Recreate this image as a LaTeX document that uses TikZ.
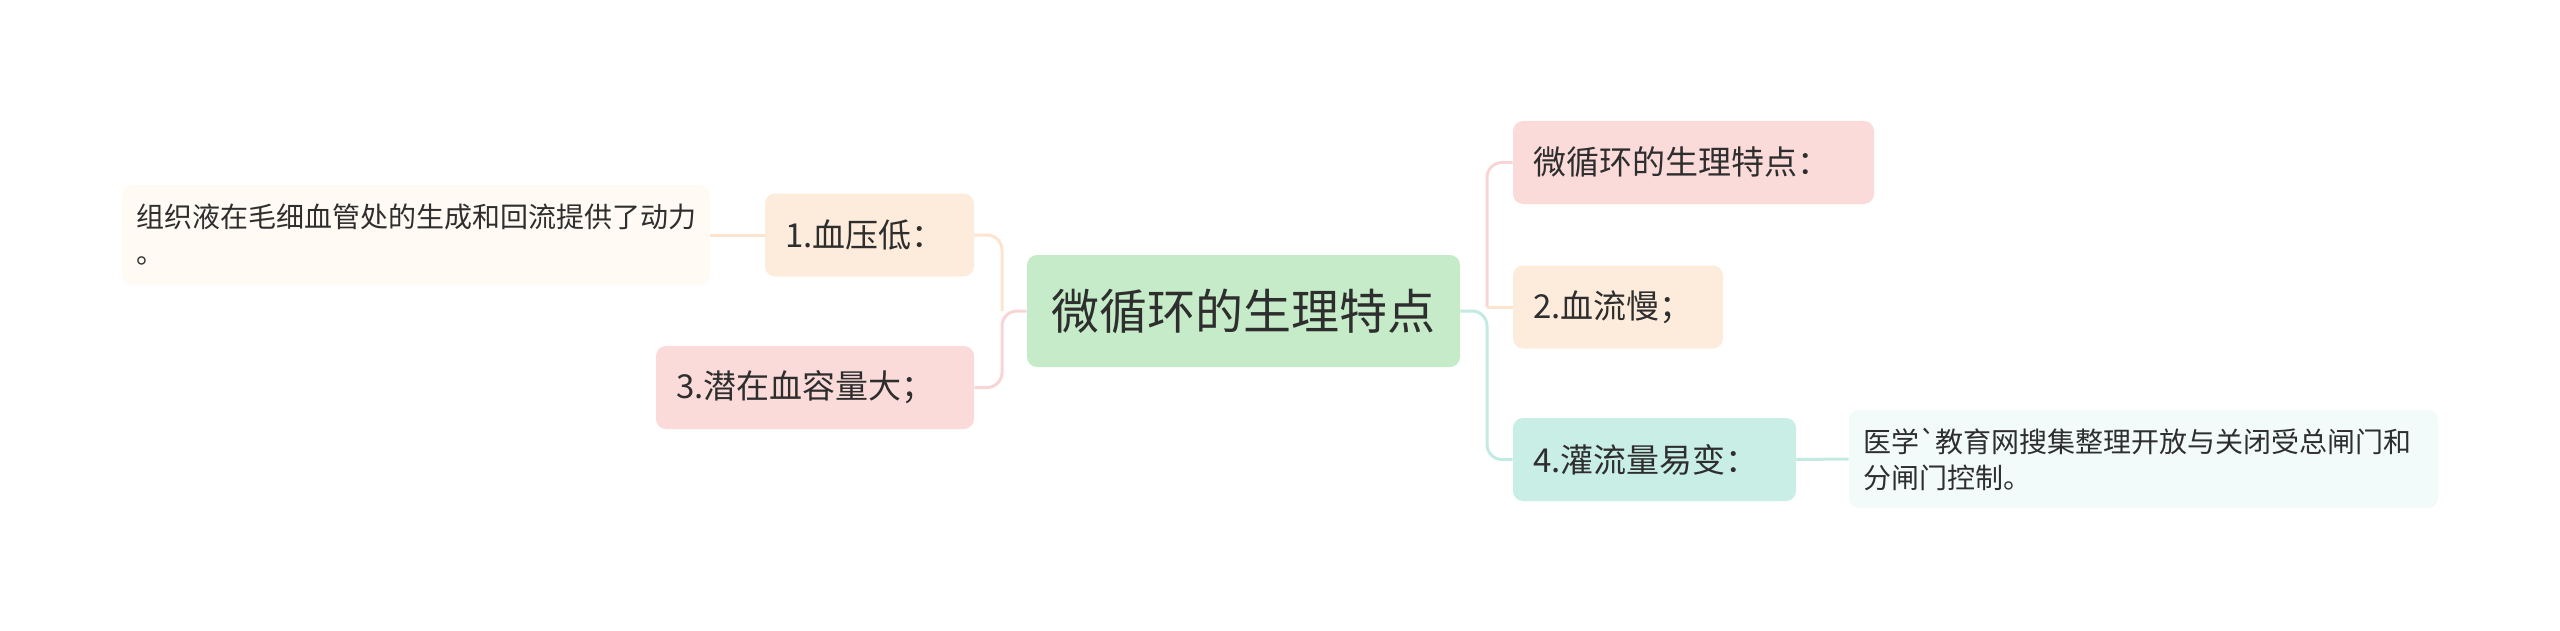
\documentclass[tikz,border=0pt]{standalone}
\usepackage{fontspec}
\setmainfont{Noto Sans CJK SC}[Ligatures=TeXOff]
\definecolor{rootfill}{HTML}{C5EBC8}
\definecolor{pinkfill}{HTML}{FADBDA}
\definecolor{peachfill}{HTML}{FDECDC}
\definecolor{mintfill}{HTML}{C9EEE6}
\definecolor{creamfill}{HTML}{FFFAF4}
\definecolor{palemint}{HTML}{F3FAFA}
\definecolor{peachline}{HTML}{FCE4CF}
\definecolor{pinkline}{HTML}{F7D5D5}
\definecolor{mintline}{HTML}{C3EAE2}
\definecolor{txt}{HTML}{2E2E2E}
\begin{document}
\begin{tikzpicture}[x=0.5pt,y=-0.5pt,
  box/.style={rounded corners=5pt, inner ysep=0pt, text=txt, align=left, anchor=center},
  rootbox/.style={box, fill=rootfill, align=center, font=\fontsize{24}{28}\selectfont},
  midbox/.style={box, inner xsep=10pt, minimum height=41.5pt, font=\fontsize{16.5}{20}\selectfont},
  leafbox/.style={box, inner xsep=7pt, font=\fontsize{14}{18}\selectfont},
  conn/.style={line width=1.5pt, rounded corners=7.5pt}]
\useasboundingbox (0,0) rectangle (2560,631);
% root
\node[rootbox, text width=196.5pt, inner xsep=10pt, minimum height=56pt] (root) at (1243.5,311) {微循环的生理特点};
% left
\node[midbox, fill=peachfill, text width=84.5pt] (b1) at (869.5,235) {1.血压低：};
\node[midbox, fill=pinkfill, text width=139pt] (b3) at (815,387.5) {3.潜在血容量大；};
\node[leafbox, fill=creamfill, text width=280pt, minimum height=50pt] (l1) at (416,235) {组织液在毛细血管处的生成和回流提供了动力\\。};
% right
\node[midbox, fill=pinkfill, text width=160.5pt] (r1) at (1693.5,162.5) {微循环的生理特点：};
\node[midbox, fill=peachfill, text width=85pt] (r2) at (1618,307) {2.血流慢；};
\node[midbox, fill=mintfill, text width=121.5pt] (r3) at (1654.5,459.5) {4.灌流量易变：};
\node[leafbox, fill=palemint, text width=280.5pt, minimum height=49pt] (l2) at (2143.5,459) {医学`教育网搜集整理开放与关闭受总闸门和\\分闸门控制。};
% junctions
\coordinate (lj) at (1002,311);
\coordinate (rj) at (1487,311);
% connectors left
\draw[conn, peachline] (b1.east) -| (lj);
\draw[conn, pinkline] (root.west) -- (lj) |- (b3.east);
\draw[conn, peachline] (l1.east) -- (b1.west);
% connectors right
\draw[conn, pinkline] (r1.west) -| (rj |- r2.west);
\draw[conn, mintline] (root.east) -- (rj) |- (r3.west);
\draw[conn, peachline] (rj |- r2.west) -- (r2.west);
\draw[conn, mintline] (r3.east) -- (l2.west);
\end{tikzpicture}
\end{document}
